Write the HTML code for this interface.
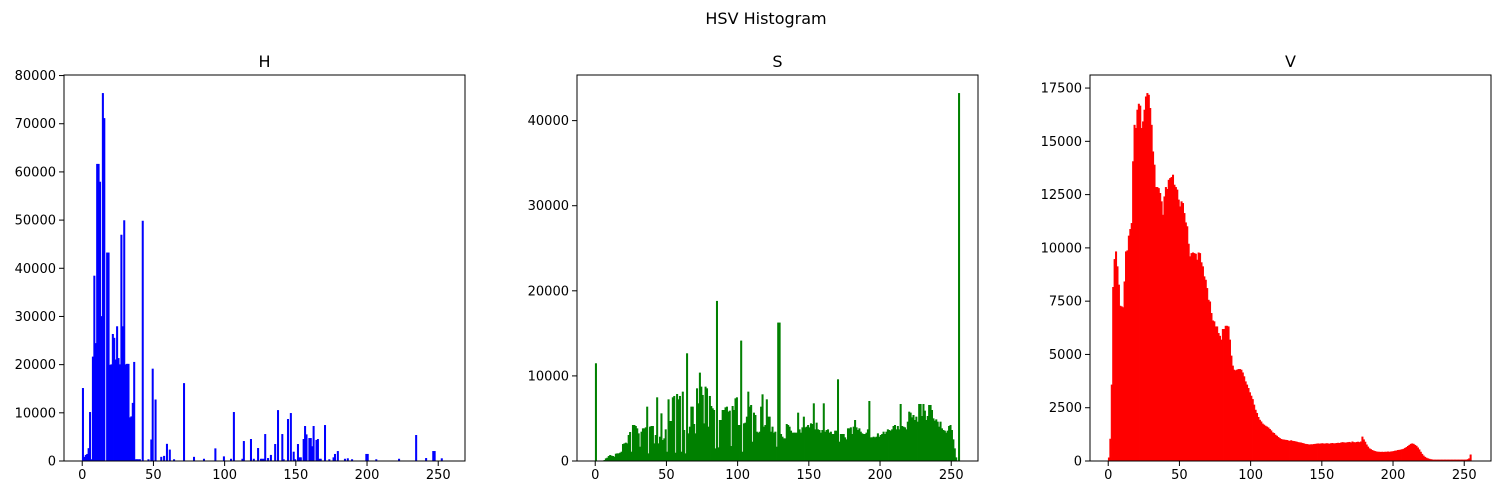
<!DOCTYPE html>
<html><head><meta charset="utf-8"><style>
body{margin:0;background:#fff;}
svg{display:block;font-family:"DejaVu Sans","Liberation Sans",sans-serif;}
</style></head><body>
<svg id="fig" width="1500" height="495" viewBox="0 0 1500 495">
<rect x="0" y="0" width="1500" height="495" fill="#fff"/>
<text x="766" y="24" font-size="16" text-anchor="middle">HSV Histogram</text>
</svg>
<script>
const hBins = [0,1,2,3,4,5,6,7,8,9,10,11,12,13,14,15,17,18,19,20,21,22,23,24,25,26,27,28,29,30,31,32,33,34,35,36,37,38,39,40,42,46,48,49,51,55,57,59,61,64,71,78,85,93,99,104,106,112,113,118,120,123,125,126,127,128,130,132,135,137,140,141,144,146,148,149,151,152,153,155,156,157,159,160,161,162,164,165,166,167,170,173,176,177,179,184,186,189,199,200,206,222,234,241,246,247,252];
const hCounts = [15080,800,1200,1400,2600,10100,300,21600,38400,24400,61600,61600,57900,30000,76300,71100,43200,43200,19900,20000,26300,25500,21000,27900,21300,20000,46900,27900,49900,20000,20100,20100,9000,9200,12000,20500,300,300,300,300,49800,300,4400,19100,12700,800,1000,3500,2300,300,16100,800,400,2560,900,400,10100,400,4080,4500,400,2630,400,400,400,5530,550,1200,3460,10500,5530,300,8650,9890,1870,300,3460,700,700,4500,7200,5460,4700,4700,3000,7200,4300,4500,400,400,7400,300,700,1400,2000,400,500,300,1400,1400,300,400,5330,550,2000,2000,500];
const sCounts = [11450,0,0,0,0,0,78,274,353,549,666,588,549,470,823,862,862,941,1058,1960,2038,2117,2038,3018,3371,1058,4194,4194,4077,3802,3214,1646,3410,3802,3802,3920,6350,862,3998,4077,4077,2038,3018,7448,2038,2822,5566,2430,2626,3685,1058,7213,4665,4665,7448,7605,941,7840,7213,7605,1058,8114,3606,862,12622,3214,3998,6350,6350,4312,3214,8506,6742,10349,8702,7722,4390,8702,8506,3998,7605,6429,6154,5958,1450,18777,1568,4782,4782,5958,5958,6272,6350,5762,5880,1725,6429,5958,7330,7448,4194,4194,14112,1058,4390,4469,5174,8114,6350,6546,2234,5645,5370,3410,3293,3410,6350,7801,3998,4194,7213,5174,5174,3410,3998,3293,3410,1646,16229,16229,3136,2822,2626,2626,4312,4194,3998,3528,3293,3293,3293,3293,5645,3685,3293,3920,5174,3920,3998,4194,3920,4390,4312,6742,3685,4469,3685,3606,3293,3606,6742,3410,3606,3685,3293,3410,3136,3136,3528,3528,9565,2234,3136,3136,3136,2744,2509,3802,3802,3920,3136,3998,4782,3920,3606,3802,3410,3214,3136,3136,3293,3685,7017,2744,2744,2822,2744,2822,3214,2822,3018,3136,3410,3136,3410,3685,3606,3528,3685,4077,4194,3685,4077,3685,6664,4077,3998,3920,3685,4586,5762,5645,5096,5370,4782,5174,4586,6664,6664,5253,6664,5880,4782,5253,6546,6546,5958,4978,4704,4861,4586,3998,4586,3802,3606,3528,3293,3528,4077,4194,3606,2509,1450,392,0,43200];
const vCounts = [150,1030,3570,8150,9460,9820,9120,8260,7270,7240,7200,8410,9820,9870,10560,10870,11150,14050,15760,15610,16470,16750,16660,15610,15920,16470,17090,17250,17170,16550,15760,14510,13890,12840,12840,12790,12560,12170,11540,12400,12840,12750,13180,13260,13310,13420,12950,12840,12720,12250,11930,12170,12090,11620,11180,11000,10180,9590,9740,9770,9740,9710,9430,9770,9740,9310,9120,8650,8490,8100,7550,7470,6930,6580,6540,6300,6300,5990,5860,5680,6180,6180,6330,6330,6300,5680,4930,4460,4270,4240,4270,4300,4300,4270,4140,3960,3720,3570,3410,3210,3050,2890,2630,2390,2240,2050,1920,1840,1740,1690,1640,1600,1560,1490,1420,1330,1300,1220,1170,1110,1060,1020,1000,990,980,970,950,930,960,930,920,910,890,870,860,850,830,810,790,780,770,760,770,770,780,790,800,810,800,810,820,800,810,820,810,800,820,830,810,820,830,840,830,850,870,860,850,860,870,880,850,900,870,860,880,890,870,900,1130,1000,890,760,660,580,540,500,470,450,430,420,420,410,420,410,420,420,430,420,430,440,450,470,480,500,510,520,540,560,600,640,690,740,790,810,790,740,700,620,530,420,320,240,180,140,110,90,70,60,50,50,50,50,50,50,50,50,50,50,50,50,50,50,50,50,50,50,50,50,50,50,50,50,70,110,290];
const xTicks = [0,50,100,150,200,250];
const hYTicks = [0,10000,20000,30000,40000,50000,60000,70000,80000];
const sYTicks = [0,10000,20000,30000,40000];
const vYTicks = [0,2500,5000,7500,10000,12500,15000,17500];

const NS = "http://www.w3.org/2000/svg";
const svg = document.getElementById('fig');
function mk(tag, attrs, parent){
  const e = document.createElementNS(NS, tag);
  for (const k in attrs) e.setAttribute(k, attrs[k]);
  (parent||svg).appendChild(e);
  return e;
}
function expand(bins, counts){
  const a = new Array(256).fill(0);
  bins.forEach((b,i)=>{ a[b] = counts[i]; });
  return a;
}
function panel(left, title, counts, color, yTicks, key){
  const top = 75, bottom = 461, w = 401, h = bottom - top;
  const g = mk('g', {});
  
  
  const xmin = -12.8, xmax = 268.8;
  const ymax = Math.max(...counts) * 1.05;
  const xs = v => left + (v - xmin) / (xmax - xmin) * w;
  const ys = v => bottom - v / ymax * h;
  counts.forEach((c, i) => {
    if (c <= 0) return;
    const r = mk('rect', {x: xs(i), y: ys(c), width: Math.max(xs(i+1) - xs(i), 0.5), height: bottom - ys(c), fill: color, stroke: color, 'stroke-width': 0.6}, g);
    
    
  });
  const frame = mk('rect', {x: left, y: top, width: w, height: h, fill: 'none', stroke: '#000', 'stroke-width': 1}, g);
  
  
  xTicks.forEach(t => {
    const x = xs(t);
    mk('line', {x1: x, x2: x, y1: bottom, y2: bottom + 5, stroke: '#000'}, g);
    const tx = mk('text', {x: x, y: bottom + 18, 'font-size': 13, 'text-anchor': 'middle'}, g);
    tx.textContent = t;
    
    
  });
  yTicks.forEach(t => {
    const y = ys(t);
    mk('line', {x1: left - 5, x2: left, y1: y, y2: y, stroke: '#000'}, g);
    const ty = mk('text', {x: left - 8, y: y + 4.5, 'font-size': 13, 'text-anchor': 'end'}, g);
    ty.textContent = t;
    
    
  });
  const tt = mk('text', {x: left + w/2, y: 67, 'font-size': 16, 'text-anchor': 'middle'}, g);
  tt.textContent = title;
  
  
}
panel(64, 'H', expand(hBins, hCounts), '#0000ff', hYTicks, 'h');
panel(577, 'S', sCounts, '#008000', sYTicks, 's');
panel(1090, 'V', vCounts, '#ff0000', vYTicks, 'v');
</script>
</body></html>
